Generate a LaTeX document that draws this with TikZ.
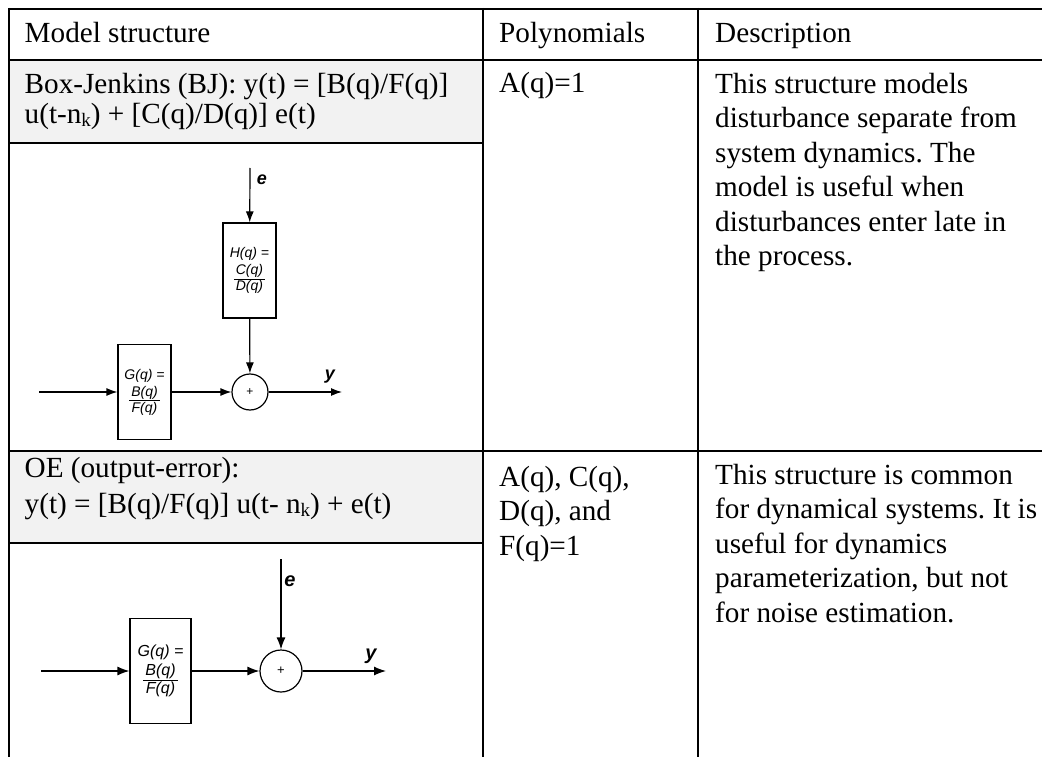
\documentclass[tikz,border=0pt]{standalone}
\usepackage{fontspec}
\setmainfont{Liberation Serif}
\setsansfont{Liberation Sans}
\usetikzlibrary{arrows.meta}
\newcommand\tabfont{\fontsize{29.2}{34.5}\selectfont\frenchspacing}
\newcommand\diafontA{\sffamily\itshape\fontsize{14}{15}\selectfont}
\newcommand\diafontB{\sffamily\itshape\fontsize{16}{17}\selectfont}
\newcommand\subk{\raisebox{-3pt}{\fontsize{19}{19}\selectfont k}}
\newcommand\fracbox[2]{${\mbox{\kern2pt#1\kern2pt}\above1pt\mbox{\kern2pt#2\kern2pt}}$}
\definecolor{hdrgray}{RGB}{242,242,242}
\begin{document}
\begin{tikzpicture}[x=1pt,y=-1pt,
  gridline/.style={line width=2pt},
  txt/.style={anchor=base west, inner sep=0pt, font=\tabfont},
  para/.style={anchor=north west, inner sep=0pt, font=\tabfont, align=left},
  blkA/.style={draw, line width=1.2pt, inner sep=0pt, minimum width=53pt, minimum height=95pt, font=\diafontA, align=center},
  blkB/.style={draw, line width=1.2pt, inner sep=0pt, minimum width=61pt, minimum height=105pt, font=\diafontB, align=center},
  sumA/.style={draw, circle, line width=1.2pt, inner sep=0pt, minimum size=36pt, font=\sffamily\fontsize{12}{12}\selectfont},
  sumB/.style={draw, circle, line width=1.2pt, inner sep=0pt, minimum size=42pt, font=\sffamily\fontsize{13}{13}\selectfont},
  sigA/.style={line width=1.2pt, -{Latex[length=11pt,width=8pt]}},
  sigB/.style={line width=1.2pt, -{Latex[length=12pt,width=9pt]}},
  lblA/.style={inner sep=0pt, font=\sffamily\bfseries\itshape\fontsize{18}{18}\selectfont},
  lblB/.style={inner sep=0pt, font=\sffamily\bfseries\itshape\fontsize{20}{20}\selectfont}
]
\useasboundingbox (0,0) rectangle (1042,757);
% gray header cells
\fill[hdrgray] (9,60) rectangle (483,143);
\fill[hdrgray] (9,451) rectangle (483,543);
% grid
\draw[gridline] (8,9) -- (1042,9);
\draw[gridline] (9,8) -- (9,757);
\draw[gridline] (483,8) -- (483,757);
\draw[gridline] (698,8) -- (698,757);
\draw[gridline] (8,60) -- (1042,60);
\draw[gridline] (8,143) -- (484,143);
\draw[gridline] (8,451) -- (1042,451);
\draw[gridline] (8,543) -- (484,543);
% header texts
\node[txt] (h1) at (24.5,43) {Model structure};
\node[txt] (h2) at (499,43) {Polynomials};
\node[txt] (h3) at (715,43) {Description};
% BJ row texts
\node[txt] (bj1) at (24.5,94) {Box-Jenkins (BJ): y(t) = [B(q)/F(q)]};
\node[txt] (bj2) at (24.5,124) {u(t-n\subk) + [C(q)/D(q)] e(t)};
\node[txt] (bjp) at (499,93) {A(q)=1};
\node[para] (bjd) at (715,68.85) {\strut This structure models\\disturbance separate from\\system dynamics. The\\model is useful when\\disturbances enter late in\\the process.};
% OE row texts
\node[txt] (oe1) at (24.5,477) {OE (output-error):};
\node[txt] (oe2) at (24.5,513) {y(t) = [B(q)/F(q)] u(t- n\subk) + e(t)};
\node[para] (oep) at (499,461.85) {\strut A(q), C(q),\\D(q), and\\F(q)=1};
\node[para] (oed) at (715,459.85) {\strut This structure is common\\for dynamical systems. It is\\useful for dynamics\\parameterization, but not\\for noise estimation.};
% BJ diagram
\node[blkA] (H) at (249.5,270.5) {H(q) =\\[3pt]\fracbox{C(q)}{D(q)}};
\node[blkA] (G1) at (144.5,392) {G(q) =\\[3pt]\fracbox{B(q)}{F(q)}};
\node[sumA] (S1) at (250,392) {+};
\coordinate (e1) at (250,168);
\coordinate (u1) at (39,392);
\coordinate (y1) at (342,392);
\draw[sigA] (e1) -- (H);
\draw[sigA] (H) -- (S1);
\draw[sigA] (u1) -- (G1);
\draw[sigA] (G1) -- (S1);
\draw[sigA] (S1) -- (y1);
\node[lblA] (le1) at (262,180) {e};
\node[lblA] (ly1) at (330,377) {y};
% OE diagram
\node[blkB] (G2) at (160.5,671) {G(q) =\\[3pt]\fracbox{B(q)}{F(q)}};
\node[sumB] (S2) at (281,671) {+};
\coordinate (e2) at (281,559);
\coordinate (u2) at (41,671);
\coordinate (y2) at (386,671);
\draw[sigB] (e2) -- (S2);
\draw[sigB] (u2) -- (G2);
\draw[sigB] (G2) -- (S2);
\draw[sigB] (S2) -- (y2);
\node[lblB] (le2) at (290,581) {e};
\node[lblB] (ly2) at (371,656) {y};
\end{tikzpicture}
\end{document}
